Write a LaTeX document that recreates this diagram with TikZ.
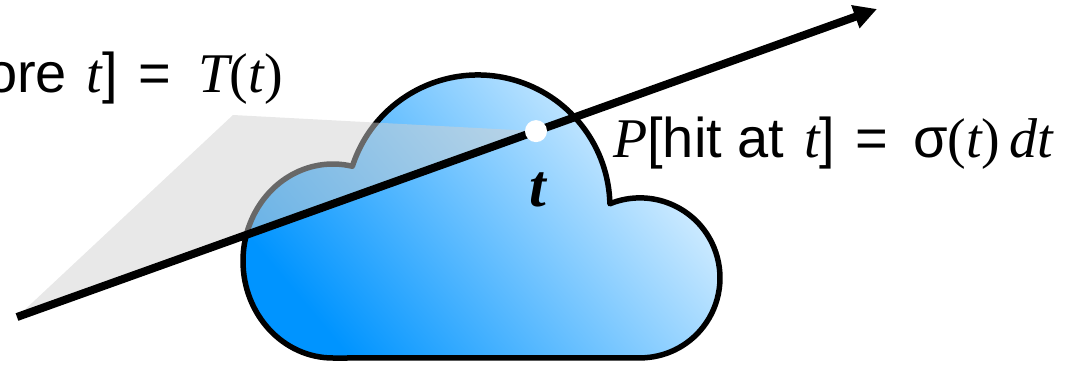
\documentclass[tikz,border=0pt]{standalone}
\usepackage{fontspec}
\setmainfont{Liberation Serif}
\newfontfamily\sansf{Liberation Sans}
\newfontfamily\seriff{Liberation Serif}
\usetikzlibrary{arrows.meta,calc}

\definecolor{clouddark}{RGB}{0,148,255}
\definecolor{cloudmid}{RGB}{75,183,255}
\definecolor{cloudlight}{RGB}{228,244,255}
\definecolor{planegray}{RGB}{209,209,209}

% math-style letters set in the serif face
\newcommand\mi[1]{{\seriff\itshape #1}}
\newcommand\mup[1]{{\seriff #1}}

\begin{document}
\begin{tikzpicture}[x=1pt,y=1pt,
  cloudshape/.style={draw=black, line width=5.5pt, line join=round,
    bottom color=clouddark, middle color=cloudmid, top color=cloudlight,
    shading angle=-50},
  planeshape/.style={fill=planegray, fill opacity=0.5},
  raystyle/.style={line width=8pt, -{Triangle[length=23pt,width=23pt]}},
  hitdot/.style={circle, fill=white, minimum size=22pt, inner sep=0pt},
  eqlabel/.style={inner sep=0pt, font=\fontsize{56}{62}\selectfont\sansf},
  pointlabel/.style={inner sep=0pt, font=\fontsize{60}{66}\selectfont\seriff\bfseries\itshape}
]
\useasboundingbox (0,0) rectangle (1081,368);

% cloud: big top lobe, small right lobe, flat bottom, small left lobe
\path[cloudshape]
  (352.4,201.8) arc[start angle=162, end angle=1.4, radius=132pt]
  arc[start angle=112.1, end angle=-90, radius=80pt]
  -- (333,10)
  arc[start angle=270, end angle=77.55, x radius=90pt, y radius=97pt]
  -- cycle;

% ray end points and the hit point on it
\coordinate (raystart) at (17,51);
\coordinate (raytip) at (877,359);
\coordinate (planecorner) at (233,253);
\coordinate (hitpt) at ($(raystart)!0.6035!(raytip)$);

% translucent plane swept by the ray up to the hit point
\fill[planeshape] (raystart) -- (planecorner) -- (hitpt) -- cycle;

% the ray
\draw[raystyle] (raystart) -- (raytip);

% hit point
\node[hitdot] (dot) at (hitpt) {};
\node[pointlabel, anchor=base] (tlabel) at (538,162) {t};

% equations
\node[eqlabel, anchor=base east] (translabel) at (283,276)
  {ore\hspace{20pt}\mi{t}]\hspace{20pt}=\hspace{28pt}\mi{T}\mup{(}\mi{t}\mup{)}};
\node[eqlabel, anchor=base west] (hitlabel) at (613,211)
  {\mi{P}[hit at\hspace{20pt}\mi{t}]\hspace{20pt}=\hspace{25pt}σ\mup{(}\mi{t}\mup{)}\,\mi{dt}};
\end{tikzpicture}
\end{document}
